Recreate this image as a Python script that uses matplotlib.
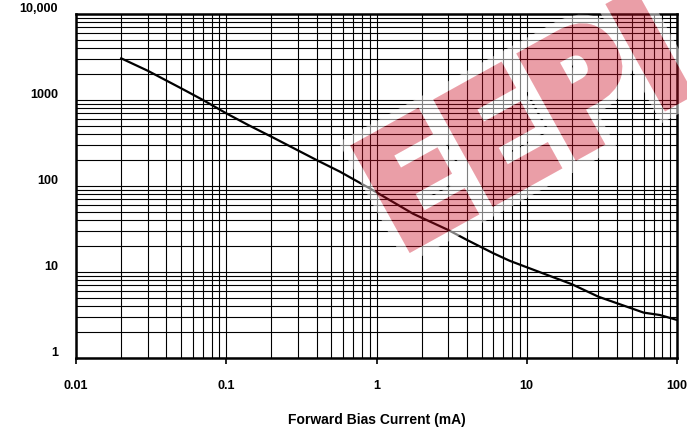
import matplotlib
matplotlib.use("Agg")
import numpy as np
import matplotlib.pyplot as plt
from matplotlib.ticker import FixedLocator, NullFormatter, LogLocator
from matplotlib.transforms import ScaledTranslation, Affine2D
from matplotlib.textpath import TextPath
from matplotlib.patches import PathPatch
from matplotlib.font_manager import FontProperties

# data (forward bias current in mA vs. resistance)
current_ma = [0.02, 0.03, 0.05, 0.07, 0.1, 0.14, 0.2, 0.4, 0.57, 0.9,
              1.75, 3, 4, 6, 7.7, 10.5, 20, 30, 60, 77, 100]
resistance = [3050, 2190, 1370, 1000, 700, 512, 374, 200, 147, 94,
              47.6, 30.8, 23.6, 16.5, 13.5, 11.0, 7.2, 5.16, 3.37, 3.16, 2.77]

x_ticks = [0.01, 0.1, 1, 10, 100]
x_labels = ["0.01", "0.1", "1", "10", "100"]
y_ticks = [1, 10, 100, 1000, 10000]
y_labels = ["1", "10", "100", "1000", "10,000"]

W, H, DPI = 687, 430, 100

plt.rcParams["font.family"] = ["Liberation Sans", "DejaVu Sans"]
plt.rcParams["font.weight"] = "bold"


def watermark_rgba():
    # draw the red stamp opaque on a transparent canvas,
    # then turn it into a see-through overlay
    wfig = plt.figure(figsize=(W / DPI, H / DPI), dpi=DPI)
    wfig.patch.set_alpha(0)
    size = 158
    tp = TextPath((0, 0), "EEPI", size=size,
                  prop=FontProperties(family="DejaVu Sans", weight="bold"))
    x0 = tp.vertices[:, 0].min()
    tr = (Affine2D().translate(-x0, 0).scale(0.88, 1.0).rotate_deg(29)
          .translate(400, H - 254))
    path = tr.transform_path(tp)
    red = (0.80, 0.05, 0.14)
    wfig.add_artist(PathPatch(path, facecolor="white", edgecolor="white",
                              lw=18, transform=None))
    wfig.add_artist(PathPatch(path, facecolor=red, edgecolor=red,
                              lw=5.5, joinstyle="miter", transform=None))
    wfig.canvas.draw()
    img = np.asarray(wfig.canvas.buffer_rgba()).astype(float) / 255
    plt.close(wfig)
    k = np.clip((1 - img[..., 1]) / 0.95, 0, 1)
    out = img.copy()
    out[..., 3] = img[..., 3] * (0.5 - 0.1 * k)
    return out


fig = plt.figure(figsize=(W / DPI, H / DPI), dpi=DPI)
ax = fig.add_axes([76 / W, 1 - 358 / H, 601 / W, 344 / H])

ax.plot(current_ma, resistance, color="black", lw=1.6, zorder=3)

ax.set_xscale("log")
ax.set_yscale("log")
ax.set_xlim(0.01, 100)
ax.set_ylim(1, 10000)

ax.xaxis.set_major_locator(FixedLocator(x_ticks))
ax.set_xticklabels(x_labels)
ax.yaxis.set_major_locator(FixedLocator(y_ticks))
ax.set_yticklabels(y_labels)
ax.xaxis.set_minor_locator(LogLocator(base=10, subs=range(2, 10)))
ax.yaxis.set_minor_locator(LogLocator(base=10, subs=range(2, 10)))
ax.xaxis.set_minor_formatter(NullFormatter())
ax.yaxis.set_minor_formatter(NullFormatter())

ax.grid(True, which="both", color="black", lw=0.8)
ax.tick_params(axis="x", which="major", direction="out", length=4, width=1.2,
               pad=12, labelsize=9)
ax.tick_params(axis="x", which="minor", length=0)
ax.tick_params(axis="y", which="both", length=0, pad=13, labelsize=9)

# the y labels sit a little above their grid lines
off = ScaledTranslation(0, 5 / 72, fig.dpi_scale_trans)
for lab in ax.get_yticklabels():
    lab.set_transform(lab.get_transform() + off)

for side in ["left", "bottom", "top", "right"]:
    ax.spines[side].set_linewidth(1.8)

ax.set_xlabel("Forward Bias Current (mA)", fontsize=10, fontweight="bold",
              labelpad=15)

fig.figimage(watermark_rgba(), xo=0, yo=0, origin="upper", zorder=10)

fig.savefig("out.png", dpi=DPI)
